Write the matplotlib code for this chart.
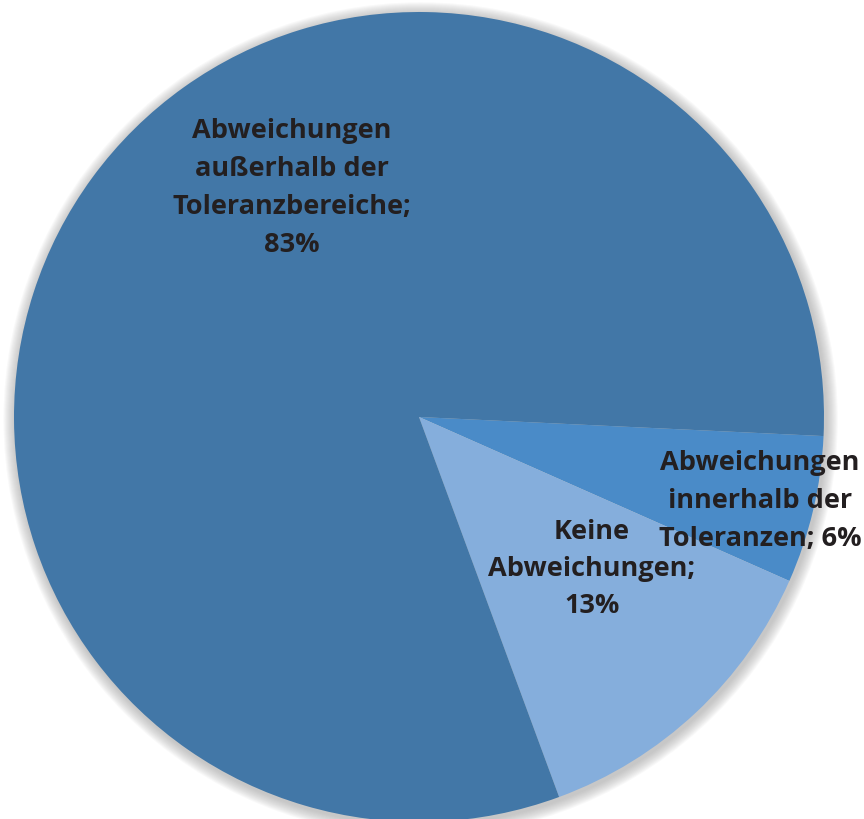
import matplotlib
matplotlib.use("Agg")
import matplotlib.pyplot as plt
from matplotlib.patches import Circle

categories = ["Abweichungen\ninnerhalb der\nToleranzen", "Keine\nAbweichungen", "Abweichungen\naußerhalb der\nToleranzbereiche"]
values = [6, 13, 83]
label_texts = ["Abweichungen\ninnerhalb der\nToleranzen; 6%", "Keine\nAbweichungen;\n13%", "Abweichungen\naußerhalb der\nToleranzbereiche;\n83%"]
colors = ["#4A8BC8", "#85AEDC", "#4277A7"]

W, H = 864, 820
cx, cy, R = 419, 418, 405

fig = plt.figure(figsize=(W / 100, H / 100), dpi=100)
ax = fig.add_axes([0, 0, 1, 1])

# soft shadow
for i in range(12):
    r = 1.0 + 0.0025 * (i + 1)
    ax.add_patch(Circle((0.004, -0.006), r, color="#9a9a9a", alpha=0.06, lw=0, zorder=0))

ax.pie(values, colors=colors, startangle=-2.7, counterclock=False, radius=1.0,
       wedgeprops=dict(linewidth=0), frame=True)
ax.set_xlim(-cx / R, (W - cx) / R)
ax.set_ylim(-(H - cy) / R, cy / R)
ax.set_aspect("equal")
ax.axis("off")

def px(x, y):
    return ((x - cx) / R, (cy - y) / R)

font = dict(family=["Open Sans", "DejaVu Sans"], fontweight="bold", fontsize=19.5, color="#231F20",
            ha="center", va="center", multialignment="center")
positions = [(760, 501), (592, 569), (292, 188)]
spacings = [1.6, 1.55, 1.6]
for t, (x, y), ls in zip(label_texts, positions, spacings):
    ax.text(*px(x, y), t, linespacing=ls, **font)

fig.savefig("out.png", dpi=100)
